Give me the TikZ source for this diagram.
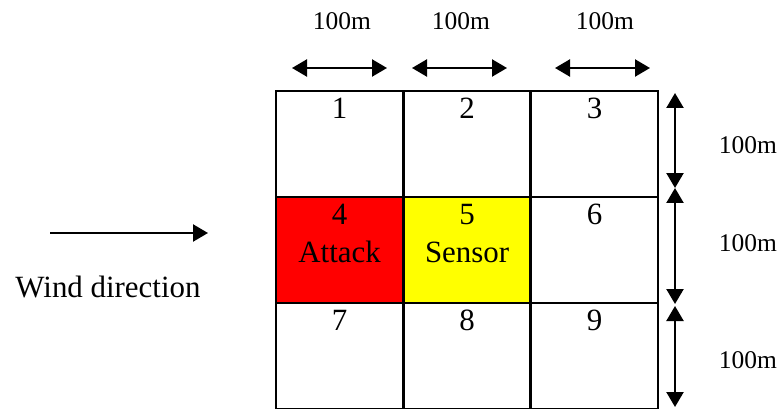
\documentclass[tikz,border=0pt]{standalone}
\usepackage{fontspec}
\setmainfont{Liberation Serif}
\usetikzlibrary{arrows.meta, positioning}
\definecolor{attackred}{HTML}{FF0000}
\definecolor{sensoryellow}{HTML}{FFFF00}

\begin{document}
\begin{tikzpicture}[x=0.02cm, y=-0.02cm,
    cell/.style={draw, line width=1.3pt, minimum width=2.54cm, minimum height=2.12cm,
                 inner sep=0pt, anchor=north west},
    celltext/.style={inner sep=0pt, anchor=north, align=center,
                     font=\fontsize{17.6}{21.6}\selectfont},
    dimarrow/.style={line width=1.3pt, {Triangle[length=3mm, width=3.4mm]}-{Triangle[length=3mm, width=3.4mm]}},
    dimlabel/.style={font=\fontsize{14.5}{17}\selectfont}]
    \useasboundingbox (0,0) rectangle (781,409);

    % 3x3 grid of cells
    \foreach \n/\col/\row/\shade/\txt in {1/0/0/white/1, 2/1/0/white/2, 3/2/0/white/3,
        4/0/1/attackred/{4\\Attack}, 5/1/1/sensoryellow/{5\\Sensor}, 6/2/1/white/6,
        7/0/2/white/7, 8/1/2/white/8, 9/2/2/white/9}{
      \node[cell, fill=\shade] (c\n) at (275+127.5*\col, 90+106*\row) {};
      \node[celltext, below=1.6mm of c\n.north] (t\n) {\txt};
    }

    % widths along the top
    \foreach \i/\xa/\xb/\xl in {1/292/387/342, 2/412/507/461, 3/555/650/605}{
      \coordinate (w\i a) at (\xa,68);
      \coordinate (w\i b) at (\xb,68);
      \node[dimlabel] (wl\i) at (\xl,21) {100m};
      \draw[dimarrow] (w\i a) -- (w\i b);
    }

    % heights on the right
    \foreach \i/\ya/\yb/\yl in {1/93/188/145, 2/188/304/243, 3/306/407/360}{
      \coordinate (h\i a) at (675,\ya);
      \coordinate (h\i b) at (675,\yb);
      \node[dimlabel] (hl\i) at (748,\yl) {100m};
      \draw[dimarrow] (h\i a) -- (h\i b);
    }

    % wind
    \coordinate (windstart) at (50,233);
    \coordinate (windend) at (208,233);
    \draw[line width=1.3pt, -{Triangle[length=3mm, width=3.4mm]}] (windstart) -- (windend);
    \node[font=\fontsize{17.6}{21.6}\selectfont] (windlabel) at (108,287) {Wind direction};
\end{tikzpicture}
\end{document}
